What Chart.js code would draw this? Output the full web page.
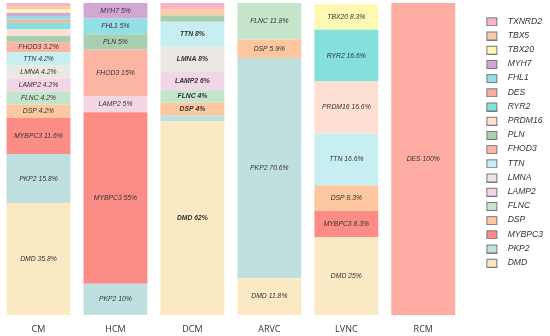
<!DOCTYPE html>
<html>
<head>
<meta charset="utf-8">
<script src="https://cdn.jsdelivr.net/npm/chart.js@4"></script>
<style>
  body { margin: 0; background: #fff; }
</style>
</head>
<body>
<canvas id="chart" width="550" height="336"></canvas>
<script>
// disease groups
const categories = ["CM", "HCM", "DCM", "ARVC", "LVNC", "RCM"];

// percent of variants per gene in each group (bottom of stack first)
const DMD    = [35.8, 0, 62, 11.8, 25, 0];
const PKP2   = [15.8, 10, 2, 70.6, 0, 0];
const MYBPC3 = [11.6, 55, 0, 0, 8.3, 0];
const DSP    = [4.2, 0, 4, 5.9, 8.3, 0];
const FLNC   = [4.2, 0, 4, 11.8, 0, 0];
const LAMP2  = [4.2, 5, 6, 0, 0, 0];
const LMNA   = [4.2, 0, 8, 0, 0, 0];
const TTN    = [4.2, 0, 8, 0, 16.6, 0];
const FHOD3  = [3.2, 15, 0, 0, 0, 0];
const PLN    = [2.1, 5, 2, 0, 0, 0];
const PRDM16 = [2.1, 0, 0, 0, 16.6, 0];
const RYR2   = [2.1, 0, 0, 0, 16.6, 0];
const DES    = [1.05, 0, 0, 0, 0, 100];
const FHL1   = [1.05, 5, 0, 0, 0, 0];
const MYH7   = [1.05, 5, 0, 0, 0, 0];
const TBX20  = [1.05, 0, 0, 0, 8.3, 0];
const TBX5   = [1.05, 0, 2, 0, 0, 0];
const TXNRD2 = [1.05, 0, 2, 0, 0, 0];

const genes = [
  ["DMD", DMD, "#fbe9c3"],
  ["PKP2", PKP2, "#c0dfdf"],
  ["MYBPC3", MYBPC3, "#fc8d86"],
  ["DSP", DSP, "#fdc79f"],
  ["FLNC", FLNC, "#c4e5cc"],
  ["LAMP2", LAMP2, "#f3d6e6"],
  ["LMNA", LMNA, "#ebe7e2"],
  ["TTN", TTN, "#c7eef0"],
  ["FHOD3", FHOD3, "#fdb5a3"],
  ["PLN", PLN, "#a8d0b0"],
  ["PRDM16", PRDM16, "#fde0d3"],
  ["RYR2", RYR2, "#84e0dc"],
  ["DES", DES, "#ffaca3"],
  ["FHL1", FHL1, "#93dfe6"],
  ["MYH7", MYH7, "#d3a7d3"],
  ["TBX20", TBX20, "#fdf9b3"],
  ["TBX5", TBX5, "#fdcaa8"],
  ["TXNRD2", TXNRD2, "#f9b4c8"]
];

// legend swatch: small box pushed right inside a wider transparent image
function swatch(color) {
  const c = document.createElement("canvas");
  c.width = 36;
  c.height = 10;
  const g = c.getContext("2d");
  g.fillStyle = color;
  g.fillRect(19.5, 1.5, 10, 8);
  g.strokeStyle = "#777";
  g.lineWidth = 1;
  g.strokeRect(19.5, 1.5, 10, 8);
  return c;
}

// writes "GENE x%" in the middle of every segment big enough
const barLabels = {
  id: "barLabels",
  afterDatasetsDraw(chart) {
    const ctx = chart.ctx;
    ctx.save();
    ctx.textAlign = "center";
    ctx.textBaseline = "middle";
    ctx.fillStyle = "#333";
    chart.data.datasets.forEach((ds, i) => {
      chart.getDatasetMeta(i).data.forEach((bar, j) => {
        const v = ds.data[j];
        if (v < 3) return;
        const bold = categories[j] === "DCM" ? "bold " : "";
        ctx.font = "italic " + bold + "6.8px 'Liberation Sans', Arial";
        ctx.fillText(ds.label + " " + v + "%", bar.x, (bar.y + bar.base) / 2);
      });
    });
    ctx.restore();
  }
};

new Chart(document.getElementById("chart"), {
  type: "bar",
  data: {
    labels: categories,
    datasets: genes.map(g => ({
      label: g[0],
      data: g[1],
      backgroundColor: g[2],
      borderWidth: 0,
      categoryPercentage: 1,
      barPercentage: 0.83
    }))
  },
  options: {
    responsive: false,
    animation: false,
    layout: { padding: { top: 3, left: -1, right: -3, bottom: -7 } },
    plugins: {
      legend: {
        position: "right",
        align: "start",
        reverse: true,
        title: { display: true, text: " ", font: { size: 7 }, padding: 0 },
        labels: {
          usePointStyle: true,
          pointStyleWidth: 36,
          boxHeight: 9,
          padding: 5.6,
          color: "#333",
          font: { family: "'Liberation Sans', Arial", size: 8.6, style: "italic" },
          generateLabels(chart) {
            const items = Chart.defaults.plugins.legend.labels.generateLabels(chart);
            items.forEach(it => { it.pointStyle = swatch(it.fillStyle); });
            return items;
          }
        }
      },
      tooltip: { enabled: false }
    },
    scales: {
      x: {
        stacked: true,
        grid: { display: false, drawTicks: false },
        border: { display: false },
        ticks: { color: "#333", padding: 8.6, font: { family: "'Open Sans'", size: 9 } }
      },
      y: {
        stacked: true,
        display: false,
        min: 0,
        max: 100
      }
    }
  },
  plugins: [barLabels]
});
</script>
</body>
</html>
